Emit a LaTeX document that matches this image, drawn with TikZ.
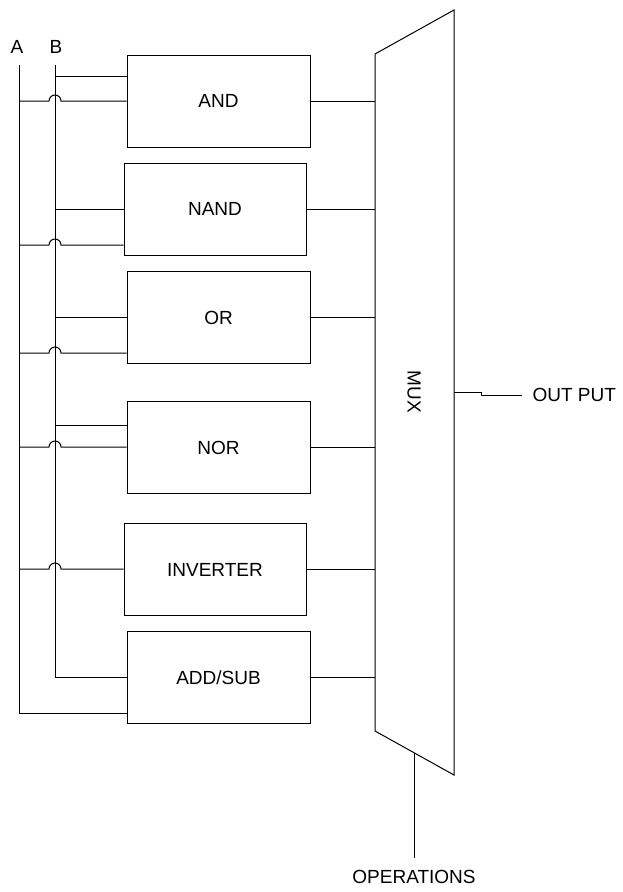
\documentclass[tikz,border=0pt]{standalone}
\usepackage{fontspec}
\setmainfont{Liberation Sans}
\usetikzlibrary{positioning,calc}

\tikzset{
    gate/.style={rectangle, draw, minimum width=183pt, minimum height=92pt, inner sep=0pt},
    hop/.style={start angle=180, end angle=0, radius=6pt}
}

\begin{document}
\begin{tikzpicture}[x=1pt, y=-1pt, line width=1pt, font=\fontsize{19}{23}\selectfont]
    \useasboundingbox (0,0) rectangle (622,892);

    % Input buses
    \node (A) at (17,47) {A};
    \node (B) at (56,47) {B};
    \coordinate (a top) at (19,65);
    \coordinate (a bot) at (19,713);
    \coordinate (b top) at (55,65);
    \coordinate (b bot) at (55,677);

    % Function blocks
    \node[gate] (and) at (218.5,101) {AND};
    \node[gate, minimum width=182pt] (nand) at (215,209) {NAND};
    \node[gate] (or) at (218.5,317.5) {OR};
    \node[gate] (nor) at (218.5,447.5) {NOR};
    \node[gate, minimum width=182pt] (inv) at (215,569.5) {INVERTER};
    \node[gate] (addsub) at (218.5,677.5) {ADD/SUB};

    % Multiplexer
    \coordinate (mux tl) at (375,54);
    \coordinate (mux tr) at (454,10);
    \coordinate (mux br) at (454,775);
    \coordinate (mux bl) at (375,731);
    \draw (mux tl) -- (mux tr) -- (mux br) -- (mux bl) -- cycle;
    \node[rotate=-90] (mux) at (414,392) {MUX};

    % Bus lines
    \draw (a top) -- (a bot) -- (a bot -| addsub.west);
    \draw (b top) -- (b bot) -- (b bot -| addsub.west);

    % B taps
    \coordinate (b and) at (55,76);
    \coordinate (b nand) at (55,209);
    \coordinate (b or) at (55,317);
    \coordinate (b nor) at (55,425);
    \draw (b and) -- (b and -| and.west);
    \draw (b nand) -- (b nand -| nand.west);
    \draw (b or) -- (b or -| or.west);
    \draw (b nor) -- (b nor -| nor.west);

    % A taps, hopping over B
    \coordinate (a and) at (19,101);
    \coordinate (a nand) at (19,245);
    \coordinate (a or) at (19,353);
    \coordinate (a nor) at (19,447);
    \coordinate (a inv) at (19,569);
    \draw (a and) -- ++(30,0) arc[hop] -- (a and -| and.west);
    \draw (a nand) -- ++(30,0) arc[hop] -- (a nand -| nand.west);
    \draw (a or) -- ++(30,0) arc[hop] -- (a or -| or.west);
    \draw (a nor) -- ++(30,0) arc[hop] -- (a nor -| nor.west);
    \draw (a inv) -- ++(30,0) arc[hop] -- (a inv -| inv.west);

    % Block outputs to MUX
    \draw (and.east) -- (and.east -| mux tl);
    \draw (nand.east) -- (nand.east -| mux tl);
    \draw (or.east) -- (or.east -| mux tl);
    \draw (nor.east) -- (nor.east -| mux tl);
    \draw (inv.east) -- (inv.east -| mux tl);
    \draw (addsub.east) -- (addsub.east -| mux tl);

    % Output and select
    \coordinate (mux out) at (454,392);
    \node[anchor=west, inner sep=0pt] (out) at (532,395) {OUT PUT};
    \draw (mux out) -- ++(27,0) -- ++(0,3) -- ([xshift=-10pt]out.west);

    \coordinate (mux sel) at (414,753);
    \node[anchor=north, inner sep=0pt] (ops) at (414,870) {OPERATIONS};
    \draw (mux sel) -- ([yshift=12pt]ops.north);
\end{tikzpicture}
\end{document}
